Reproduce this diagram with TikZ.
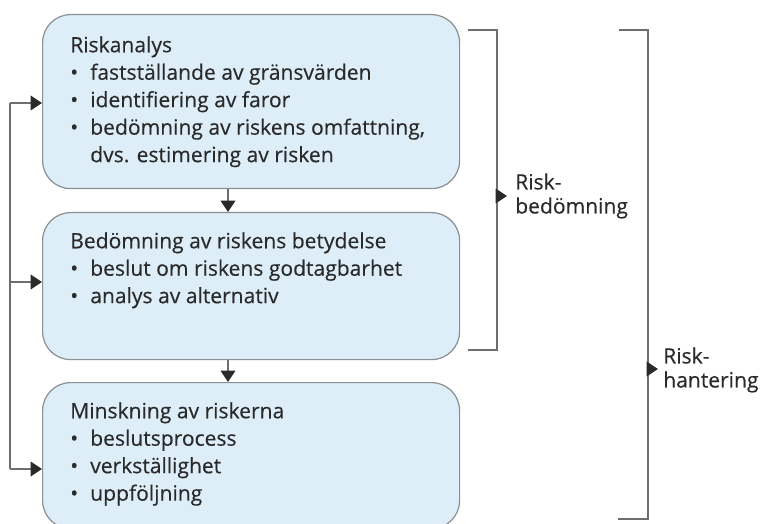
\documentclass[tikz,border=0pt]{standalone}
\usepackage{fontspec}
\setmainfont{Open Sans}[FakeBold=0.3]
\usetikzlibrary{arrows.meta}
\definecolor{boxfill}{HTML}{DDEEF8}
\definecolor{boxline}{HTML}{8A8F94}
\definecolor{txt}{HTML}{2A2A2A}
\definecolor{ln}{HTML}{6E6E6E}
\newcommand\bl{\makebox[15pt][l]{\textbullet}}
\begin{document}
\begin{tikzpicture}[x=0.75pt,y=-0.75pt,
  box/.style={draw=boxline, fill=boxfill, line width=0.9pt, rounded corners=21pt,
    inner sep=0pt, anchor=north west, minimum width=312.75pt},
  txtn/.style={anchor=north west, inner sep=0pt, align=left, text=txt,
    font=\fontsize{15.8pt}{20.6pt}\selectfont},
  lab/.style={anchor=west, inner sep=0pt, align=left, text=txt,
    font=\fontsize{15.8pt}{18pt}\selectfont},
  conn/.style={draw=ln, line width=1pt},
  arr/.style={conn, -{Triangle[length=8.5pt,width=11pt,fill=txt,color=txt]}},
  brk/.style={draw=ln, line width=1.1pt}
]
\useasboundingbox (0,0) rectangle (768,524);
\clip (0,0) rectangle (768,524);

% boxes
\node[box, minimum height=130.5pt] (b1) at (42,14) {};
\node[box, minimum height=110.25pt] (b2) at (42,212) {};
\node[box, minimum height=109.5pt] (b3) at (42,382) {};

% texts
\node[txtn] (t1) at (70,36) {Riskanalys\\
\bl fastställande av gränsvärden\\
\bl identifiering av faror\\
\bl bedömning av riskens omfattning,\\
\hspace*{15pt}dvs. estimering av risken};
\node[txtn] (t2) at (70,232) {Bedömning av riskens betydelse\\
\bl beslut om riskens godtagbarhet\\
\bl analys av alternativ};
\node[txtn] (t3) at (70,402) {Minskning av riskerna\\
\bl beslutsprocess\\
\bl verkställighet\\
\bl uppföljning};

% arrows between boxes
\coordinate (ax) at (228,0);
\draw[arr] (b1.south -| ax) -- (b2.north -| ax);
\draw[arr] (b2.south -| ax) -- (b3.north -| ax);

% feedback loop on the left
\coordinate (l1) at (10,103);
\coordinate (l2) at (10,282);
\coordinate (l3) at (10,469);
\draw[conn] (l3) -- (l1);
\draw[arr] (l1) -- (b1.west |- l1);
\draw[arr] (l2) -- (b2.west |- l2);
\draw[arr] (l3) -- (b3.west |- l3);

% brackets
\draw[brk] (468,30) -- (497,30) -- (497,350) -- (468,350);
\draw[brk] (619,30) -- (648,30) -- (648,519) -- (618,519);
\coordinate (k1) at (497,196);
\coordinate (k2) at (648,369);
\node[lab] (r1) at (515,196) {Risk-\\bedömning};
\node[lab] (r2) at (663,370) {Risk-\\hantering};
\draw[arr] (k1) -- ++(10,0);
\draw[arr] (k2) -- ++(10,0);
\end{tikzpicture}
\end{document}
